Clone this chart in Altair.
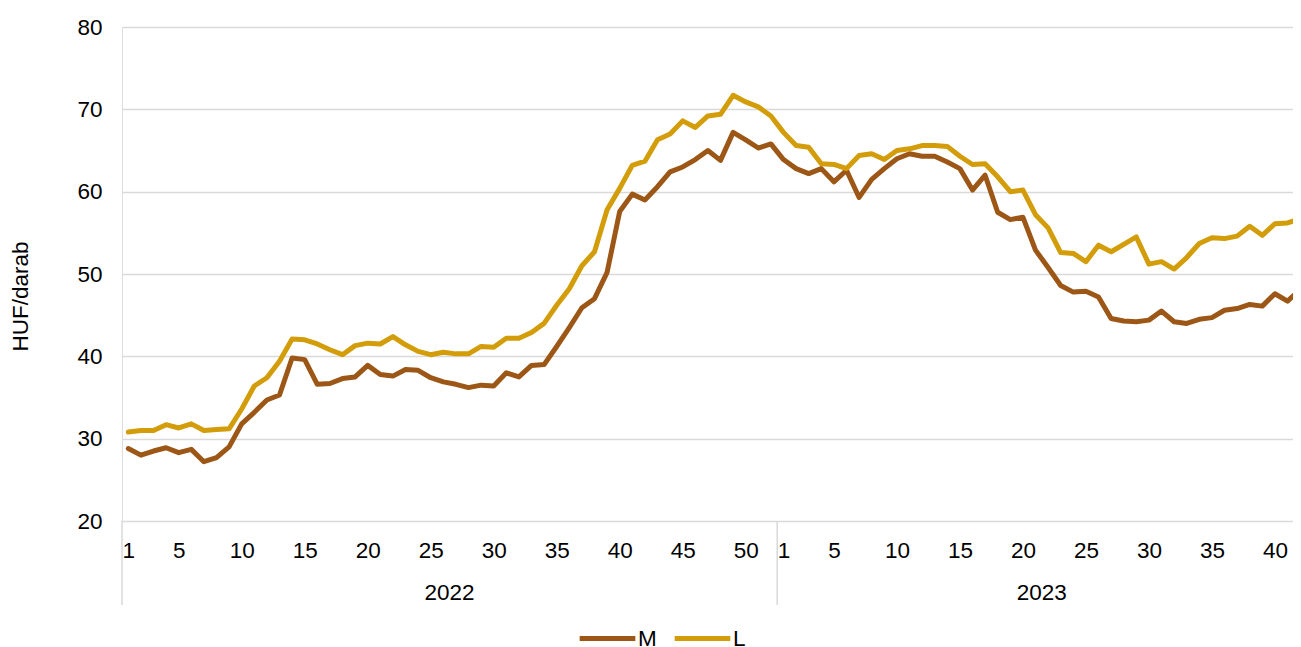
import altair as alt
import pandas as pd

# ---- data -------------------------------------------------------------
years = ["2022", "2023"]
weeks_2022 = list(range(1, 53))
weeks_2023 = list(range(1, 43))

m_2022 = [28.8, 28.0, 28.5, 28.9, 28.3, 28.7, 27.2, 27.7, 29.0, 31.8,
          33.2, 34.7, 35.3, 39.8, 39.6, 36.6, 36.7, 37.3, 37.5, 38.9,
          37.8, 37.6, 38.4, 38.3, 37.4, 36.9, 36.6, 36.2, 36.5, 36.4,
          38.0, 37.5, 38.9, 39.0, 41.2, 43.5, 45.9, 47.0, 50.2, 57.6,
          59.7, 59.0, 60.6, 62.4, 63.0, 63.9, 65.0, 63.8, 67.2, 66.3,
          65.3, 65.8]
m_2023 = [63.9, 62.8, 62.2, 62.8, 61.2, 62.6, 59.3, 61.5, 62.8, 64.0,
          64.6, 64.3, 64.3, 63.6, 62.8, 60.2, 62.0, 57.5, 56.6, 56.9,
          52.9, 50.8, 48.6, 47.8, 47.9, 47.2, 44.6, 44.3, 44.2, 44.4,
          45.5, 44.2, 44.0, 44.5, 44.7, 45.6, 45.8, 46.3, 46.1, 47.6,
          46.7, 48.1]
l_2022 = [30.8, 31.0, 31.0, 31.7, 31.3, 31.8, 31.0, 31.1, 31.2, 33.6,
          36.4, 37.4, 39.4, 42.1, 42.0, 41.5, 40.8, 40.2, 41.3, 41.6,
          41.5, 42.4, 41.4, 40.6, 40.2, 40.5, 40.3, 40.3, 41.2, 41.1,
          42.2, 42.2, 42.9, 44.0, 46.2, 48.2, 51.0, 52.7, 57.8, 60.4,
          63.2, 63.7, 66.3, 67.0, 68.6, 67.8, 69.2, 69.4, 71.7, 70.9,
          70.3, 69.2]
l_2023 = [67.2, 65.6, 65.4, 63.4, 63.3, 62.8, 64.4, 64.6, 63.9, 65.0,
          65.2, 65.6, 65.6, 65.5, 64.3, 63.3, 63.4, 61.8, 60.0, 60.2,
          57.2, 55.6, 52.6, 52.5, 51.5, 53.5, 52.7, 53.6, 54.5, 51.2,
          51.5, 50.6, 52.0, 53.7, 54.4, 54.3, 54.6, 55.8, 54.7, 56.1,
          56.2, 56.7]

series_names = ["M", "L"]
series_colors = ["#9C5716", "#D39C09"]
y_ticks = [20, 30, 40, 50, 60, 70, 80]
week_ticks_2022 = [1, 5, 10, 15, 20, 25, 30, 35, 40, 45, 50]
week_ticks_2023 = [1, 5, 10, 15, 20, 25, 30, 35, 40]

# ---- tables built from the lists ---------------------------------------
n22 = len(weeks_2022)
rows = []
for name, a, b in [("M", m_2022, m_2023), ("L", l_2022, l_2023)]:
    for i, v in enumerate(a):
        rows.append({"idx": i, "series": name, "value": v})
    for i, v in enumerate(b):
        rows.append({"idx": n22 + i, "series": name, "value": v})
df = pd.DataFrame(rows)

n_total = n22 + len(weeks_2023)
tick_idx = [w - 1 for w in week_ticks_2022] + [n22 + w - 1 for w in week_ticks_2023]

year_df = pd.DataFrame({
    "year": years,
    "center": [(n22 - 1) / 2, n22 + (len(weeks_2023) - 1) / 2],
})
div_df = pd.DataFrame({"pos": [-0.5, n22 - 0.5]})

W, H = 1171, 494
BAND = 12.6
FONT = "Liberation Sans"
FS = 22.5

xscale = alt.Scale(domain=[-0.5, -0.5 + W / BAND], nice=False, zero=False)

lines = alt.Chart(df).mark_line(strokeWidth=5, strokeJoin="round", strokeCap="round", clip=False).encode(
    x=alt.X("idx:Q", scale=xscale,
            axis=alt.Axis(values=tick_idx, title=None, grid=False, ticks=False, domain=False,
                          labelExpr=f"datum.value < {n22} ? datum.value + 1 : datum.value - {n22 - 1}",
                          labelFontSize=FS, labelColor="#000000", labelFont=FONT,
                          labelPadding=18, labelFlush=False, labelOverlap=False)),
    y=alt.Y("value:Q", scale=alt.Scale(domain=[20, 80], nice=False, zero=False),
            axis=alt.Axis(values=y_ticks, title="HUF/darab", grid=True, gridColor="#D9D9D9",
                          gridWidth=1.5, ticks=False, domain=False,
                          labelFontSize=FS, labelColor="#000000", labelFont=FONT, labelPadding=20,
                          titleFontSize=FS, titleFontWeight="normal", titleColor="#000000",
                          titleFont=FONT, titlePadding=44, titleY=269)),
    color=alt.Color("series:N", scale=alt.Scale(domain=series_names, range=series_colors),
                    sort=series_names,
                    legend=alt.Legend(title=None, orient="none", direction="horizontal",
                                      legendX=455, legendY=581, padding=0,
                                      symbolType="stroke", symbolSize=3100, symbolStrokeWidth=5,
                                      labelFontSize=FS, labelFont=FONT, labelColor="#000000",
                                      labelOffset=0, columnPadding=7, symbolOffset=0)),
)

dividers = alt.Chart(div_df).mark_rule(color="#D9D9D9", strokeWidth=1.5).encode(
    x=alt.X("pos:Q", scale=xscale),
    y=alt.value(H),
    y2=alt.value(H + 84),
)

year_text = alt.Chart(year_df).mark_text(fontSize=FS, font=FONT, color="#000000",
                                         baseline="middle", align="center").encode(
    x=alt.X("center:Q", scale=xscale),
    y=alt.value(H + 72),
    text="year:N",
)

chart = alt.layer(dividers, lines, year_text).properties(
    width=W, height=H,
    autosize=alt.AutoSizeParams(type="none"),
    padding={"left": 114, "top": 19, "right": 0, "bottom": 126},
).configure_view(stroke=None).configure(background="white")

chart.save("out.html", embed_options={"renderer": "svg", "actions": False})
